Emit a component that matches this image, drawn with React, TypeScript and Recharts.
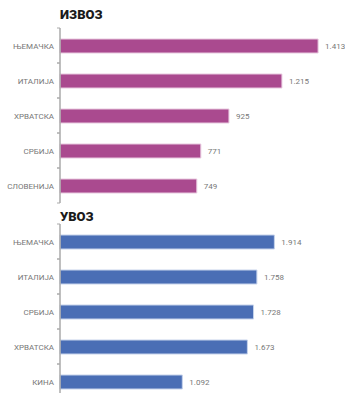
import React from "react";
import { BarChart, Bar, XAxis, YAxis, LabelList } from "recharts";

const exportCountries = ["ЊЕМАЧКА", "ИТАЛИЈА", "ХРВАТСКА", "СРБИЈА", "СЛОВЕНИЈА"];
const exportValues = [1413, 1215, 925, 771, 749];
const importCountries = ["ЊЕМАЧКА", "ИТАЛИЈА", "СРБИЈА", "ХРВАТСКА", "КИНА"];
const importValues = [1914, 1758, 1728, 1673, 1092];

const exportData = exportCountries.map((c, i) => ({ name: c, value: exportValues[i] }));
const importData = importCountries.map((c, i) => ({ name: c, value: importValues[i] }));

const FONT = "Roboto, 'Noto Sans', sans-serif";
const CHART_H = 210;
const MARGIN = { top: 28, right: 5, bottom: 7, left: 0 };
const BAND = (CHART_H - MARGIN.top - MARGIN.bottom) / 5;

const fmt = (v: any) => {
  const n = Number(v);
  return n.toString().replace(/\B(?=(\d{3})+(?!\d))/g, ".");
};

const CatTick = (props: any) => {
  const { x, y, payload } = props;
  return (
    <g>
      <line x1={x - 3} x2={x} y1={y - BAND / 2} y2={y - BAND / 2} stroke="#aaa" strokeWidth={1} />
      <line x1={x - 3} x2={x} y1={y + BAND / 2} y2={y + BAND / 2} stroke="#aaa" strokeWidth={1} />
      <text x={x - 6} y={y} dy={3} textAnchor="end" fontSize={8} fill="#777" fontFamily={FONT}>
        {payload.value}
      </text>
    </g>
  );
};

const Panel = ({ title, data, color, stroke, max, top, titleTop }: any) => (
  <div style={{ position: "absolute", left: 0, top, width: 345, height: CHART_H }}>
    <div
      style={{
        position: "absolute",
        left: 60,
        top: titleTop,
        fontFamily: FONT,
        fontWeight: 900,
        fontSize: 13,
        color: "#1a1a1a",
        lineHeight: "16px",
      }}
    >
      {title}
    </div>
    <BarChart width={345} height={CHART_H} data={data} layout="vertical" margin={MARGIN}>
      <XAxis type="number" domain={[0, max]} hide />
      <YAxis
        type="category"
        dataKey="name"
        width={60}
        tickLine={false}
        tickSize={0}
        tickMargin={0}
        axisLine={{ stroke: "#aaa", strokeWidth: 1.5 }}
        tick={<CatTick />}
        interval={0}
      />
      <Bar dataKey="value" fill={color} stroke={stroke} strokeWidth={1} barSize={14} isAnimationActive={false}>
        <LabelList
          dataKey="value"
          position="right"
          offset={7}
          formatter={fmt}
          style={{ fontSize: 8, fill: "#777", fontFamily: FONT }}
        />
      </Bar>
    </BarChart>
  </div>
);

export default function App() {
  return (
    <div
      style={{
        position: "absolute",
        left: 0,
        top: 0,
        width: 345,
        height: 393,
        overflow: "hidden",
        background: "#fff",
      }}
    >
      <Panel title="ИЗВОЗ" data={exportData} color="#AA4A8F" stroke="#E8C9DF" max={1533} top={0} titleTop={7} />
      <Panel title="УВОЗ" data={importData} color="#4A6EB5" stroke="#C6D3EB" max={2500} top={196} titleTop={13} />
    </div>
  );
}
